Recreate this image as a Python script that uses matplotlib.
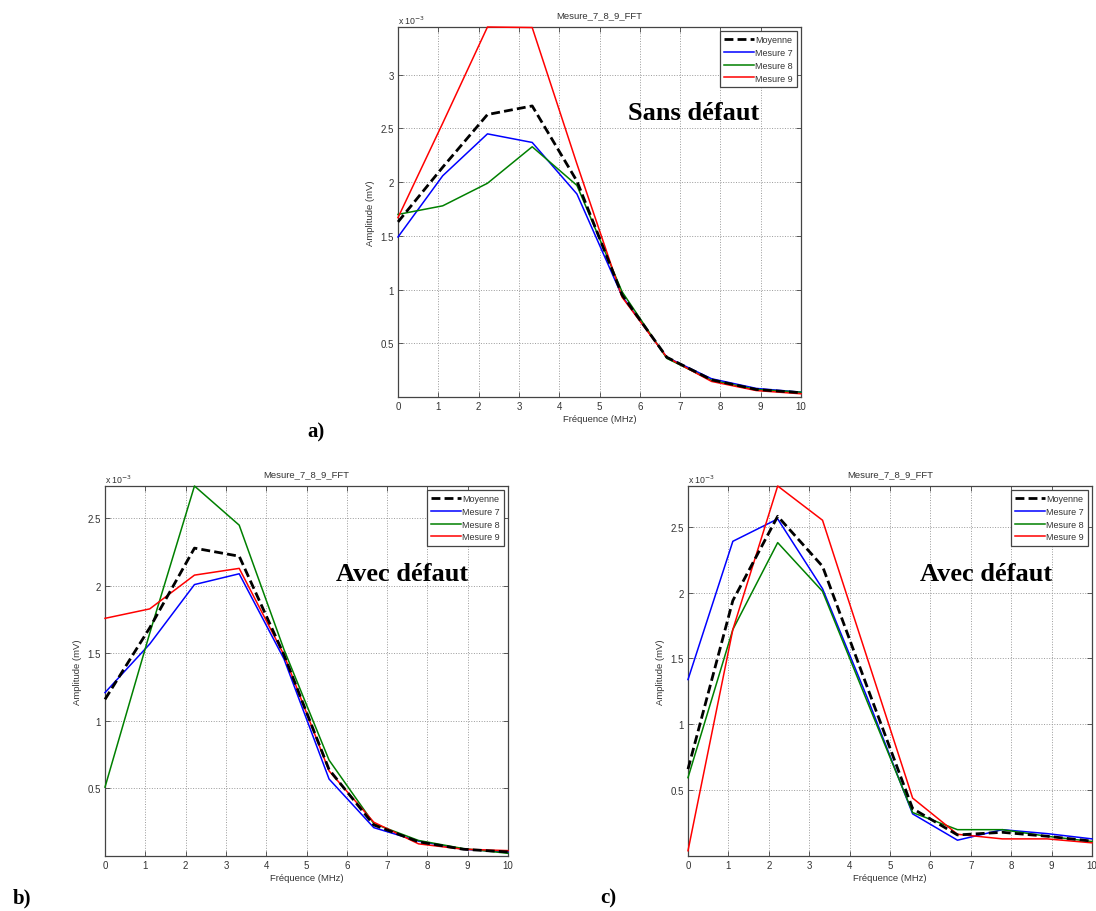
import matplotlib
matplotlib.use("Agg")
import matplotlib.pyplot as plt

# ---------------- data (amplitude in units of 1e-3 mV) ----------------
freq = [0, 1.11, 2.22, 3.33, 4.44, 5.56, 6.67, 7.78, 8.89, 10]

# a) Sans défaut
a_moy = [1.63, 2.14, 2.63, 2.71, 2.01, 0.95, 0.37, 0.16, 0.07, 0.04]
a_m7  = [1.49, 2.06, 2.45, 2.37, 1.89, 0.94, 0.37, 0.17, 0.08, 0.045]
a_m8  = [1.70, 1.78, 1.99, 2.33, 1.97, 0.98, 0.36, 0.155, 0.07, 0.045]
a_m9  = [1.67, 2.55, 3.445, 3.44, 2.17, 0.93, 0.37, 0.145, 0.06, 0.03]

# b) Avec défaut
b_moy = [1.16, 1.69, 2.28, 2.22, 1.49, 0.64, 0.23, 0.105, 0.05, 0.03]
b_m7  = [1.21, 1.57, 2.01, 2.09, 1.46, 0.57, 0.21, 0.11, 0.05, 0.03]
b_m8  = [0.51, 1.65, 2.74, 2.45, 1.53, 0.71, 0.24, 0.115, 0.055, 0.02]
b_m9  = [1.76, 1.83, 2.08, 2.13, 1.49, 0.63, 0.25, 0.09, 0.05, 0.04]

# c) Avec défaut
c_moy = [0.66, 1.94, 2.58, 2.20, 1.28, 0.36, 0.16, 0.18, 0.15, 0.113]
c_m7  = [1.34, 2.39, 2.56, 2.03, 1.20, 0.32, 0.12, 0.20, 0.17, 0.13]
c_m8  = [0.595, 1.72, 2.38, 2.01, 1.17, 0.33, 0.20, 0.20, 0.15, 0.11]
c_m9  = [0.04, 1.72, 2.81, 2.55, 1.50, 0.44, 0.165, 0.13, 0.13, 0.10]

series_labels = ["Moyenne", "Mesure 7", "Mesure 8", "Mesure 9"]
title = "Mesure_7_8_9_FFT"
xlabel = "Fréquence (MHz)"
ylabel = "Amplitude (mV)"
xticks = list(range(0, 11))
yticks_a = [0.5, 1, 1.5, 2, 2.5, 3]
yticks_bc = [0.5, 1, 1.5, 2, 2.5]
tick_labels_a = ["0.5", "1", "1.5", "2", "2.5", "3"]
tick_labels_bc = ["0.5", "1", "1.5", "2", "2.5"]

W, H = 1096, 912
fig = plt.figure(figsize=(W / 100, H / 100), dpi=100)
fig.patch.set_facecolor("white")

SANS = ["Liberation Sans", "DejaVu Sans"]
SERIF = ["Liberation Serif", "DejaVu Serif"]
TXT = "#333333"


def px_axes(l, t, r, b):
    return fig.add_axes([l / W, 1 - b / H, (r - l) / W, (b - t) / H])


def draw(ax, moy, m7, m8, m9, yticks, ylabels):
    ax.plot(freq, m7, color="#0000ff", lw=1.1, label=series_labels[1], zorder=3, clip_on=False)
    ax.plot(freq, m8, color="#008000", lw=1.1, label=series_labels[2], zorder=3, clip_on=False)
    ax.plot(freq, m9, color="#ff0000", lw=1.1, label=series_labels[3], zorder=3, clip_on=False)
    ax.plot(freq, moy, color="black", lw=2.0, dashes=(3.2, 1.5),
            label=series_labels[0], zorder=4, clip_on=False)
    ymax = max(max(moy), max(m7), max(m8), max(m9))
    ax.set_xlim(0, 10)
    ax.set_ylim(0, ymax)
    ax.set_xticks(xticks)
    ax.set_xticklabels([str(v) for v in xticks])
    ax.set_yticks(yticks)
    ax.set_yticklabels(ylabels)
    ax.grid(True, linestyle=":", color="#9a9a9a", lw=0.7)
    ax.set_axisbelow(True)
    ax.tick_params(direction="in", top=True, right=True, length=3.5,
                   width=0.6, colors="#444444", labelcolor=TXT,
                   labelsize=7, pad=3)
    for lab in ax.get_xticklabels() + ax.get_yticklabels():
        lab.set_family(SANS)
    for s in ax.spines.values():
        s.set_color("#444444")
        s.set_linewidth(0.9)
        s.set_zorder(2)
    ax.set_title(title, fontsize=6.8, family=SANS, color=TXT, pad=7)
    ax.set_xlabel(xlabel, fontsize=6.8, family=SANS, color=TXT, labelpad=2)
    ax.set_ylabel(ylabel, fontsize=6.8, family=SANS, color=TXT, labelpad=4)
    ax.text(0, 1.004, r"x 10$^{-3}$", transform=ax.transAxes, ha="left",
            va="bottom", fontsize=6.3, family=SANS, color=TXT)
    h, l = ax.get_legend_handles_labels()
    order = [3, 0, 1, 2]
    leg = ax.legend([h[i] for i in order], [l[i] for i in order],
                    loc="upper right", prop={"family": SANS, "size": 6.5},
                    handlelength=3.3, handletextpad=0.15, labelspacing=0.42,
                    borderpad=0.45, borderaxespad=0.45, fancybox=False,
                    framealpha=1, edgecolor="#444444")
    leg.get_frame().set_linewidth(0.9)
    leg.set_zorder(5)
    for t in leg.get_texts():
        t.set_color(TXT)


axa = px_axes(398, 28, 801, 398)
draw(axa, a_moy, a_m7, a_m8, a_m9, yticks_a, tick_labels_a)
axb = px_axes(105, 487, 508, 857)
draw(axb, b_moy, b_m7, b_m8, b_m9, yticks_bc, tick_labels_bc)
axc = px_axes(688, 487, 1092, 857)
draw(axc, c_moy, c_m7, c_m8, c_m9, yticks_bc, tick_labels_bc)

# annotations
fig.text(628 / W, 1 - 120 / H, "Sans défaut", fontsize=19, fontweight="bold",
         family=SERIF, ha="left", va="baseline")
fig.text(336 / W, 1 - 581 / H, "Avec défaut", fontsize=19, fontweight="bold",
         family=SERIF, ha="left", va="baseline")
fig.text(920 / W, 1 - 581 / H, "Avec défaut", fontsize=19, fontweight="bold",
         family=SERIF, ha="left", va="baseline")

fig.text(316 / W, 1 - 432 / H, "a)", fontsize=15, fontweight="bold",
         family=SERIF, ha="center", va="center")
fig.text(22 / W, 1 - 898 / H, "b)", fontsize=15, fontweight="bold",
         family=SERIF, ha="center", va="center")
fig.text(608 / W, 1 - 898 / H, "c)", fontsize=15, fontweight="bold",
         family=SERIF, ha="center", va="center")

fig.savefig("out.png", dpi=100, facecolor="white")
